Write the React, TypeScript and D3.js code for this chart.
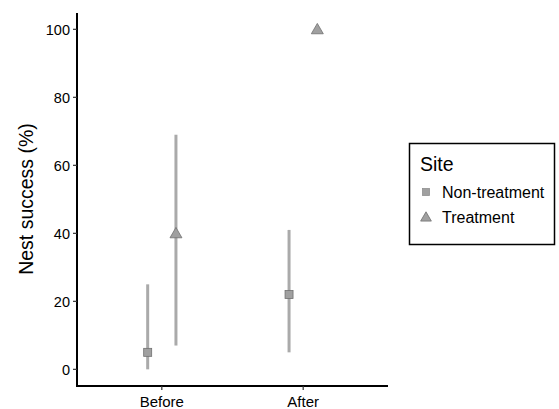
import React from 'react';
import * as d3 from 'd3';

const periods = ['Before', 'After'];
const sites = ['Non-treatment', 'Treatment'];
const estimates = [
  { period: 'Before', site: 'Non-treatment', value: 5, low: 0, high: 25 },
  { period: 'Before', site: 'Treatment', value: 40, low: 7, high: 69 },
  { period: 'After', site: 'Non-treatment', value: 22, low: 5, high: 41 },
  { period: 'After', site: 'Treatment', value: 100, low: null, high: null },
];
const yTicks = [0, 20, 40, 60, 80, 100];

const W = 559;
const H = 409;
const margin = { top: 13, right: 171, bottom: 23, left: 77 };
const font = 'Liberation Sans, Arial, sans-serif';

const Marker = ({ site, x, y }: { site: string; x: number; y: number }) =>
  site === 'Treatment' ? (
    <path
      d={d3.symbol(d3.symbolTriangle, 62)()!}
      transform={`translate(${x},${y + 1})`}
      fill="#a0a0a0"
      stroke="#707070"
      strokeWidth={0.8}
    />
  ) : (
    <rect x={x - 4} y={y - 4} width={8} height={8} fill="#a0a0a0" stroke="#707070" strokeWidth={0.8} />
  );

export default function App() {
  const x0 = margin.left;
  const x1 = W - margin.right;
  const y1 = H - margin.bottom;

  // discrete axis with ggplot-style 0.6 expansion on each side
  const x = d3.scaleLinear().domain([0.4, 2.6]).range([x0, x1]);
  const y = d3.scaleLinear().domain([-4.9, 104.8]).range([y1, margin.top]);
  const dodge = (site: string) => (site === 'Treatment' ? 0.1 : -0.1);
  const px = (d: { period: string; site: string }) => x(periods.indexOf(d.period) + 1 + dodge(d.site));

  return (
    <svg width={W} height={H} style={{ position: 'absolute', left: 0, top: 0 }} fontFamily={font}>
      <rect width={W} height={H} fill="#fff" />

      {/* error bars */}
      {estimates.filter(d => d.low !== null).map(d => (
        <line key={'e' + d.period + d.site} x1={px(d)} x2={px(d)} y1={y(d.low!)} y2={y(d.high!)}
          stroke="#aaaaaa" strokeWidth={3} />
      ))}

      {/* points */}
      {estimates.map(d => (
        <Marker key={'p' + d.period + d.site} site={d.site} x={px(d)} y={y(d.value)} />
      ))}

      {/* axes */}
      <line x1={x0} x2={x0} y1={margin.top} y2={y1 + 1} stroke="#000" strokeWidth={2} />
      <line x1={x0 - 1} x2={x1} y1={y1} y2={y1} stroke="#000" strokeWidth={2} />
      {yTicks.map(t => (
        <g key={t}>
          <line x1={x0 - 4} x2={x0} y1={y(t)} y2={y(t)} stroke="#333" strokeWidth={1.2} />
          <text x={x0 - 7} y={y(t)} dy="0.36em" textAnchor="end" fontSize={14.5} fill="#000">{t}</text>
        </g>
      ))}
      {periods.map((p, i) => (
        <g key={p}>
          <line x1={x(i + 1)} x2={x(i + 1)} y1={y1} y2={y1 + 4} stroke="#333" strokeWidth={1.2} />
          <text x={x(i + 1)} y={y1 + 21} textAnchor="middle" fontSize={15} fill="#000">{p}</text>
        </g>
      ))}
      <text transform={`translate(33,199) rotate(-90)`} textAnchor="middle"
        fontSize={19.5} fill="#000">Nest success (%)</text>

      {/* legend */}
      <g transform="translate(409,143)">
        <rect x={0.5} y={0.5} width={145} height={101} fill="#fff" stroke="#000" strokeWidth={1.5} />
        <text x={11} y={28} fontSize={19.5} fill="#000">Site</text>
        {sites.map((s, i) => (
          <g key={s}>
            {s === 'Treatment' ? (
              <path d={d3.symbol(d3.symbolTriangle, 50)()!} transform={`translate(17,${74 + 1})`}
                fill="#a0a0a0" stroke="#707070" strokeWidth={0.8} />
            ) : (
              <rect x={13.5} y={45.5} width={7} height={7} fill="#a0a0a0" stroke="#909090" strokeWidth={0.8} />
            )}
            <text x={33} y={49 + i * 25} dy="0.36em" fontSize={16} fill="#000">{s}</text>
          </g>
        ))}
      </g>
    </svg>
  );
}
